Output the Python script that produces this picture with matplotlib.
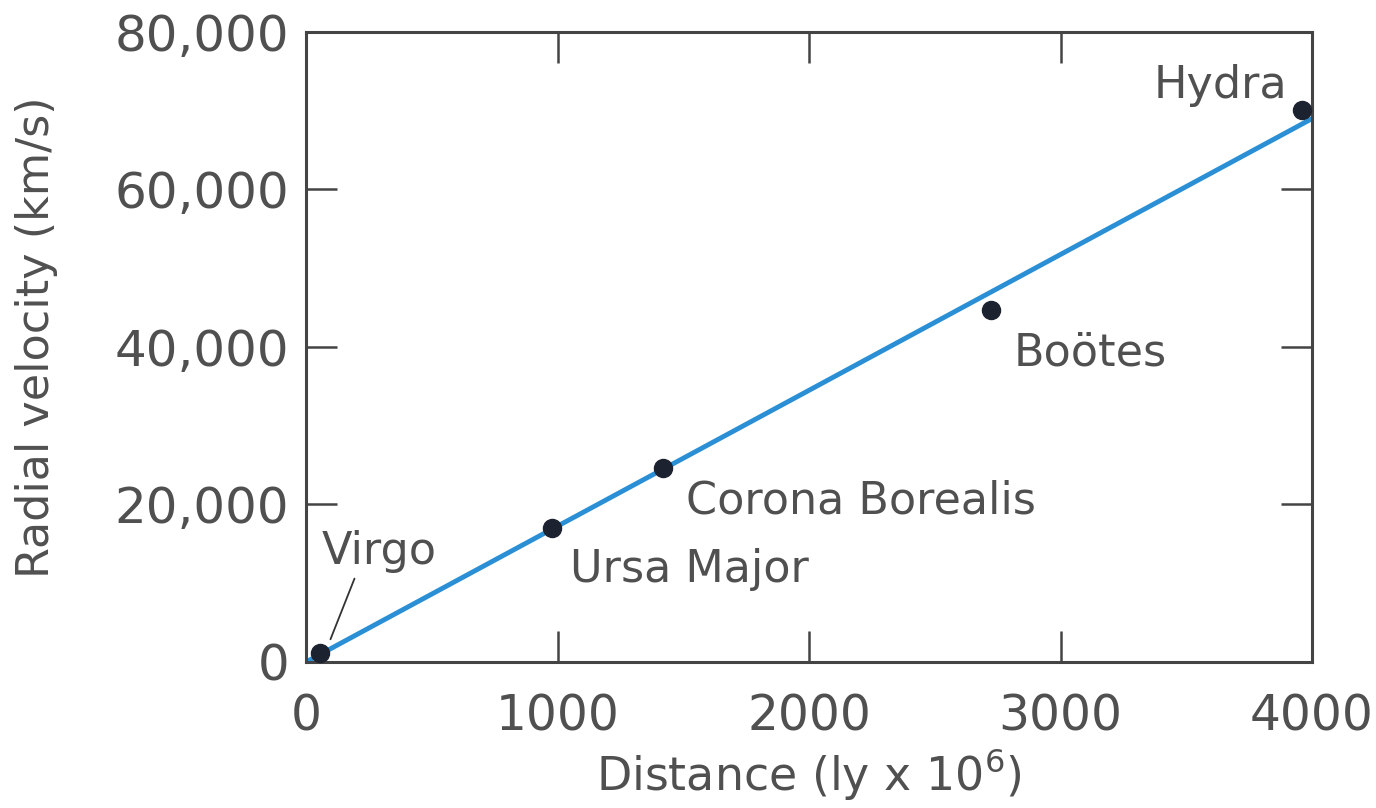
import matplotlib
matplotlib.use("Agg")
import matplotlib.pyplot as plt

# galaxy clusters: distance (ly x 10^6) and radial velocity (km/s)
names = ["Virgo", "Ursa Major", "Corona Borealis", "Boötes", "Hydra"]
distance = [55, 980, 1420, 2725, 3960]
velocity = [1200, 17000, 24600, 44700, 70100]

# Hubble-law fit line
fit_x = [0, 4000]
fit_y = [0, 69000]

x_ticks = [0, 1000, 2000, 3000, 4000]
y_ticks = [0, 20000, 40000, 60000, 80000]

TXT = "#505050"
AX = "#444444"
plt.rcParams["font.family"] = ["DejaVu Sans"]

fig = plt.figure(figsize=(13.76, 8.08), dpi=100)
ax = fig.add_axes([0.2224, 0.1807, 0.7311, 0.7797])

ax.plot(fit_x, fit_y, color="#2a8fd4", linewidth=3.5, zorder=2)
ax.plot(distance, velocity, "o", color="#1c2230", markersize=13, zorder=3, clip_on=False)

ax.set_xlim(0, 4000)
ax.set_ylim(0, 80000)
ax.set_xticks(x_ticks)
ax.set_yticks(y_ticks)
ax.set_yticklabels([f"{v:,}" for v in y_ticks])
ax.tick_params(direction="in", length=22, width=1.8, color=AX,
               top=True, right=True, labelsize=36, labelcolor=TXT, pad=12)
ax.tick_params(axis="x", labelsize=35, pad=22)
for sp in ax.spines.values():
    sp.set_color(AX)
    sp.set_linewidth(2.2)

ax.set_xlabel("Distance (ly x 10$^{6}$)", fontsize=33, color=TXT, labelpad=4)
ax.set_ylabel("Radial velocity (km/s)", fontsize=32, color=TXT)
ax.yaxis.set_label_coords(-0.247, 0.515)

# labels beside points
ax.annotate("Virgo", xy=(distance[0] + 30, velocity[0] + 700), xytext=(64, 14000),
            fontsize=32, color=TXT, va="center", ha="left",
            arrowprops=dict(arrowstyle="-", color="#333333", lw=1.3,
                            shrinkA=2, shrinkB=6, relpos=(0.3, 0.0)))
ax.text(1050, 11800, names[1], fontsize=32, color=TXT, va="center", ha="left")
ax.text(1510, 20500, names[2], fontsize=32, color=TXT, va="center", ha="left")
ax.text(2815, 39300, names[3], fontsize=32, color=TXT, va="center", ha="left")
ax.text(3900, 73200, names[4], fontsize=32, color=TXT, va="center", ha="right")

fig.savefig("out.png", dpi=100)
